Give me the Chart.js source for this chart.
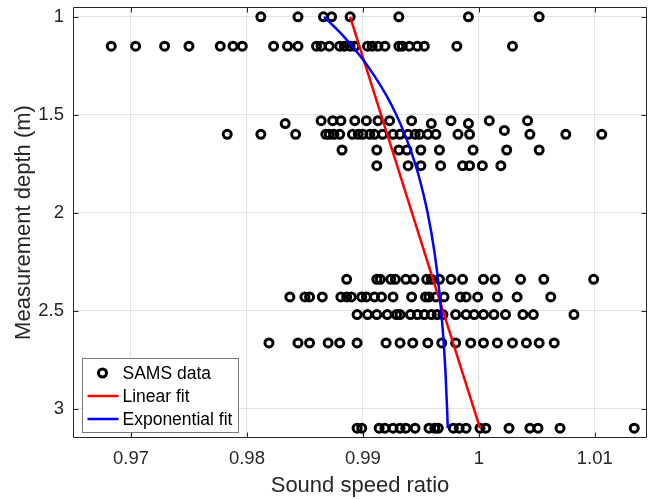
<!DOCTYPE html>
<html>
<head>
<meta charset="utf-8">
<script src="https://cdn.jsdelivr.net/npm/chart.js@4.4.1/dist/chart.umd.min.js"></script>
<style>
  html, body { margin: 0; padding: 0; background: #fff; }
</style>
</head>
<body>
<canvas id="chart" width="657" height="499"></canvas>
<script>
// axis ticks
const xTicks = [0.97, 0.98, 0.99, 1, 1.01];
const yTicks = [1, 1.5, 2, 2.5, 3];

// SAMS data: one array of sound speed ratios per measurement depth
const depths = [1.0, 1.15, 1.53, 1.545, 1.58, 1.6, 1.68, 1.76, 2.34, 2.43, 2.52, 2.665, 3.1];
const ratio100 = [0.9812, 0.9844, 0.9866, 0.9873, 0.9889, 0.9931, 0.9991, 1.0052];
const ratio115 = [0.9683, 0.9704, 0.9729, 0.9750, 0.9777, 0.9788, 0.9796, 0.9823, 0.9835, 0.9844,
                  0.9860, 0.9864, 0.9871, 0.9880, 0.9884, 0.9889, 0.9893, 0.9904, 0.9908, 0.9913,
                  0.9919, 0.9931, 0.9934, 0.9940, 0.9947, 0.9953, 0.9981, 1.0029];
const ratio153 = [0.9864, 0.9874, 0.9881, 0.9893, 0.9903, 0.9913, 0.9923, 0.9942, 0.9976, 1.0009, 1.0042];
const ratio1545 = [0.9833, 0.9959, 0.9991];
const ratio158 = [1.0022];
const ratio160 = [0.9783, 0.9812, 0.9842, 0.9868, 0.9871, 0.9875, 0.9880, 0.9891, 0.9896, 0.9900,
                  0.9906, 0.9910, 0.9917, 0.9926, 0.9932, 0.9939, 0.9945, 0.9949, 0.9956, 0.9963,
                  0.9982, 0.9992, 1.0044, 1.0075, 1.0106];
const ratio168 = [0.9882, 0.9912, 0.9931, 0.9938, 0.9950, 0.9966, 0.9995, 1.0024, 1.0052];
const ratio176 = [0.9912, 0.9939, 0.9950, 0.9967, 0.9986, 0.9992, 1.0003, 1.0019];
const ratio234 = [0.9886, 0.9912, 0.9915, 0.9924, 0.9928, 0.9937, 0.9944, 0.9955, 0.9959, 0.9966,
                  0.9976, 0.9986, 1.0004, 1.0014, 1.0036, 1.0056, 1.0099];
const ratio243 = [0.9837, 0.9850, 0.9854, 0.9865, 0.9881, 0.9886, 0.9890, 0.9899, 0.9903, 0.9910,
                  0.9916, 0.9926, 0.9942, 0.9954, 0.9957, 0.9963, 0.9970, 0.9984, 0.9989, 0.9999,
                  1.0016, 1.0033, 1.0062];
const ratio252 = [0.9895, 0.9904, 0.9912, 0.9921, 0.9929, 0.9932, 0.9941, 0.9947, 0.9953, 0.9959,
                  0.9964, 0.9969, 0.9980, 0.9989, 0.9996, 1.0004, 1.0013, 1.0023, 1.0038, 1.0047,
                  1.0082];
const ratio2665 = [0.9819, 0.9844, 0.9854, 0.9870, 0.9880, 0.9895, 0.9920, 0.9932, 0.9943, 0.9956,
                   0.9968, 0.9980, 0.9993, 1.0004, 1.0016, 1.0029, 1.0041, 1.0052, 1.0065];
const ratio310 = [0.9895, 0.9899, 0.9914, 0.9919, 0.9926, 0.9932, 0.9937, 0.9945, 0.9957, 0.9962,
                  0.9965, 0.9978, 0.9983, 0.9989, 1.0001, 1.0006, 1.0026, 1.0044, 1.0051, 1.0070,
                  1.0134];
const samsRows = [ratio100, ratio115, ratio153, ratio1545, ratio158, ratio160, ratio168, ratio176,
                  ratio234, ratio243, ratio252, ratio2665, ratio310];

// linear fit
const linDepth = [1.0, 3.1];
const linRatio = [0.9889, 1.0001];

// exponential fit
const expDepth = [1.0, 1.1, 1.2, 1.3, 1.4, 1.5, 1.6, 1.7, 1.8, 2.0, 2.2, 2.4, 2.6, 2.8, 3.0, 3.1];
const expRatio = [0.98665, 0.98834, 0.98977, 0.99098, 0.99201, 0.99288, 0.99361, 0.99423,
                  0.99476, 0.99558, 0.99617, 0.99659, 0.99689, 0.99711, 0.99726, 0.99732];

const samsPoints = [];
samsRows.forEach((row, i) => row.forEach(v => samsPoints.push({ x: v, y: depths[i] })));

const axisColor = '#262626';
const fontFamily = '"Liberation Sans", Arial, sans-serif';
Chart.defaults.font.family = fontFamily;

// box round the axes, with inward tick marks on all four sides
const framePlugin = {
  id: 'frame',
  afterDraw(chart) {
    const { ctx, chartArea: a, scales: { x, y } } = chart;
    const tl = 5.5;
    ctx.save();
    ctx.strokeStyle = axisColor;
    ctx.lineWidth = 1;
    ctx.beginPath();
    ctx.rect(a.left + 0.5, a.top + 0.5, a.right - a.left - 1, a.bottom - a.top - 1);
    xTicks.forEach(v => {
      const px = Math.round(x.getPixelForValue(v)) + 0.5;
      ctx.moveTo(px, a.bottom); ctx.lineTo(px, a.bottom - tl);
      ctx.moveTo(px, a.top); ctx.lineTo(px, a.top + tl);
    });
    yTicks.forEach(v => {
      const py = Math.round(y.getPixelForValue(v)) + 0.5;
      ctx.moveTo(a.left, py); ctx.lineTo(a.left + tl, py);
      ctx.moveTo(a.right, py); ctx.lineTo(a.right - tl, py);
    });
    ctx.stroke();
    ctx.restore();
  }
};

// legend in the lower left corner of the axes
const legendPlugin = {
  id: 'boxLegend',
  afterDraw(chart) {
    const { ctx, chartArea: a } = chart;
    const bx = a.left + 9.5, by = a.bottom - 79.5, bw = 156, bh = 74;
    ctx.save();
    ctx.fillStyle = '#fff';
    ctx.fillRect(bx, by, bw, bh);
    ctx.strokeStyle = '#7a7a7a';
    ctx.lineWidth = 1;
    ctx.strokeRect(bx, by, bw, bh);
    ctx.font = '17.5px ' + fontFamily;
    ctx.textBaseline = 'middle';
    ctx.fillStyle = '#000';
    const order = [2, 1, 0];
    order.forEach((di, i) => {
      const ds = chart.data.datasets[di];
      const cy = by + 14.5 + i * 23;
      if (di === 2) {
        ctx.beginPath();
        ctx.arc(bx + 20, cy, ds.pointRadius, 0, Math.PI * 2);
        ctx.strokeStyle = ds.borderColor;
        ctx.lineWidth = ds.borderWidth;
        ctx.stroke();
      } else {
        ctx.beginPath();
        ctx.moveTo(bx + 5, cy); ctx.lineTo(bx + 36, cy);
        ctx.strokeStyle = ds.borderColor;
        ctx.lineWidth = ds.borderWidth;
        ctx.stroke();
      }
      ctx.fillText(ds.label, bx + 40, cy + 1);
    });
    ctx.restore();
  }
};

const tickFont = { size: 18.5, family: fontFamily };
const titleFont = { size: 22, family: fontFamily };

new Chart(document.getElementById('chart'), {
  type: 'scatter',
  data: {
    datasets: [
      {
        label: 'Exponential fit',
        data: expDepth.map((d, i) => ({ x: expRatio[i], y: d })),
        showLine: true,
        borderColor: '#0000ff',
        borderWidth: 2.5,
        pointRadius: 0,
        cubicInterpolationMode: 'monotone',
        order: 0
      },
      {
        label: 'Linear fit',
        data: linDepth.map((d, i) => ({ x: linRatio[i], y: d })),
        showLine: true,
        borderColor: '#ff0000',
        borderWidth: 2.5,
        pointRadius: 0,
        order: 1
      },
      {
        label: 'SAMS data',
        data: samsPoints,
        borderColor: '#000',
        backgroundColor: 'rgba(0,0,0,0)',
        borderWidth: 3,
        pointRadius: 4,
        order: 2
      }
    ]
  },
  options: {
    responsive: false,
    animation: false,
    layout: { padding: { top: 6, right: 10, left: 0, bottom: 0 } },
    plugins: { legend: { display: false }, tooltip: { enabled: false } },
    scales: {
      x: {
        type: 'linear',
        min: 0.965,
        max: 1.0145,
        afterBuildTicks: s => { s.ticks = xTicks.map(v => ({ value: v })); },
        afterFit: s => { s.height = 61; s.paddingLeft = 0; s.paddingRight = 0; },
        ticks: { font: tickFont, color: axisColor, padding: 10, maxRotation: 0,
                 callback: v => String(+v.toFixed(2)) },
        grid: { color: '#e3e3e3', drawTicks: false },
        border: { display: false },
        title: { display: true, text: 'Sound speed ratio', font: titleFont, color: axisColor,
                 padding: { top: 0, bottom: 0 } }
      },
      y: {
        type: 'linear',
        reverse: true,
        min: 0.95,
        max: 3.15,
        afterBuildTicks: s => { s.ticks = yTicks.map(v => ({ value: v })); },
        afterFit: s => { s.width = 73; s.paddingTop = 0; s.paddingBottom = 0; },
        ticks: { font: tickFont, color: axisColor, padding: 9,
                 callback: v => String(+v.toFixed(2)) },
        grid: { color: '#e3e3e3', drawTicks: false },
        border: { display: false },
        title: { display: true, text: 'Measurement depth (m)', font: titleFont, color: axisColor,
                 padding: { top: 11, bottom: 0 } }
      }
    }
  },
  plugins: [framePlugin, legendPlugin]
});
</script>
</body>
</html>
